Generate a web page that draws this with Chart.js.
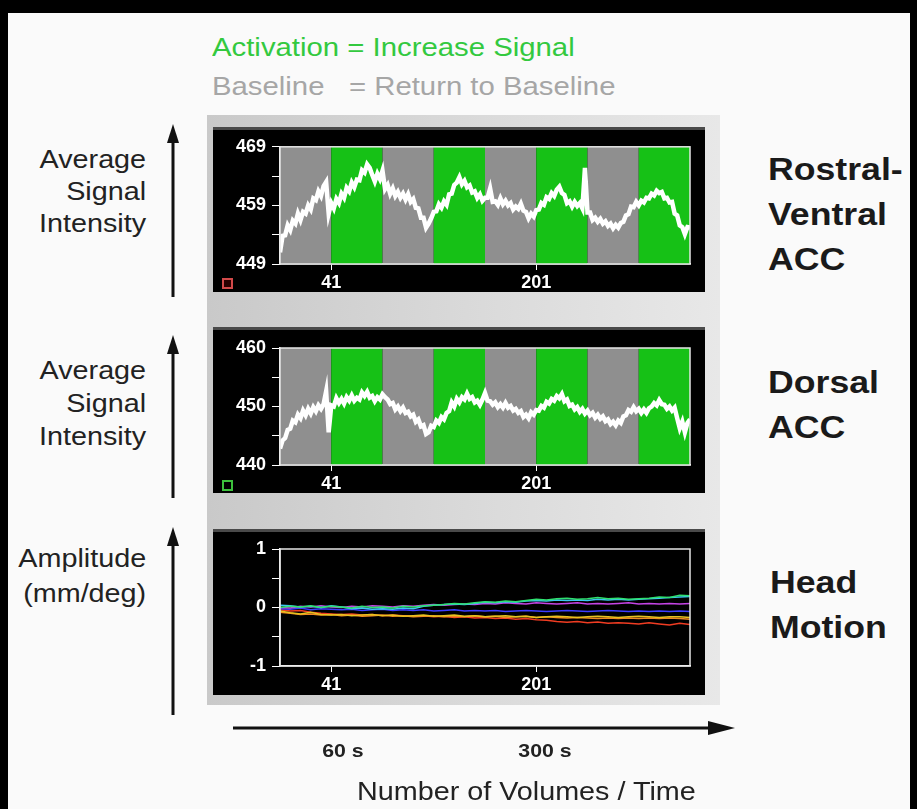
<!DOCTYPE html>
<html>
<head>
<meta charset="utf-8">
<script src="https://cdn.jsdelivr.net/npm/chart.js@4.4.1/dist/chart.umd.min.js"></script>
<style>
  html, body { margin: 0; padding: 0; }
  body { width: 917px; height: 809px; position: relative; background: #fafafa; overflow: hidden;
         font-family: "Liberation Sans", Arial, sans-serif; }
  .abs { position: absolute; }
  .stretch { transform: scaleX(1.15); white-space: pre; }
  .panel { position: absolute; background: #000; box-shadow: 0 -3px 0 #4a4a4a; }
  .side { font-size: 25px; color: #222; text-align: right; transform-origin: right top; }
  .region { font-size: 31px; font-weight: bold; color: #1a1a1a; transform-origin: left top; line-height: 45px; }
  .roi { position: absolute; width: 7px; height: 7px; }
</style>
</head>
<body>
<div class="abs" style="left:0;top:0;width:917px;height:13px;background:#000"></div>
<div class="abs" style="left:0;top:0;width:8px;height:809px;background:#000"></div>
<div class="abs" style="left:910px;top:0;width:7px;height:809px;background:#000"></div>

<div class="abs stretch" style="left:212px;top:28px;font-size:25.5px;line-height:39px;color:#33c93f;transform-origin:left top">Activation = Increase Signal</div>
<div class="abs stretch" style="left:212px;top:67px;font-size:25.5px;line-height:39px;color:#a6a6a6;transform-origin:left top">Baseline   = Return to Baseline</div>

<div class="abs" style="left:207px;top:115px;width:513px;height:590px;background:linear-gradient(to right,#c9c9c9,#dcdcdc 60%,#e8e8e8)"></div>

<canvas id="rv" class="panel" width="492" height="162" style="left:213px;top:130px"></canvas>
<canvas id="dacc" class="panel" width="492" height="163" style="left:213px;top:330px"></canvas>
<canvas id="motion" class="panel" width="492" height="163" style="left:213px;top:532px"></canvas>

<div class="roi" style="left:222px;top:278px;border:2px solid #d24a4a;background:#2a0000"></div>
<div class="roi" style="left:222px;top:480px;border:2px solid #3cc03c;background:#000"></div>

<div class="abs stretch side" style="right:771px;top:143px;line-height:32px">Average
Signal
Intensity</div>
<div class="abs stretch side" style="right:771px;top:354px;line-height:33px">Average
Signal
Intensity</div>
<div class="abs stretch side" style="right:771px;top:541px;line-height:35px">Amplitude
(mm/deg)</div>

<div class="abs stretch region" style="left:768px;top:147px">Rostral-
Ventral
ACC</div>
<div class="abs stretch region" style="left:768px;top:360px">Dorsal
ACC</div>
<div class="abs stretch region" style="left:770px;top:560px">Head
Motion</div>

<svg class="abs" style="left:0;top:0" width="917" height="809">
  <g stroke="#111" stroke-width="3" fill="#111">
    <line x1="173" y1="297" x2="173" y2="138"/>
    <polygon points="173,124 167,143 179,143" stroke="none"/>
    <line x1="173" y1="498" x2="173" y2="350"/>
    <polygon points="173,335 167,354 179,354" stroke="none"/>
    <line x1="173" y1="715" x2="173" y2="542"/>
    <polygon points="173,527 167,546 179,546" stroke="none"/>
    <line x1="233" y1="728" x2="712" y2="728"/>
    <polygon points="735,728 708,721 708,735" stroke="none"/>
  </g>
</svg>

<div class="abs stretch" style="left:293px;top:740px;width:100px;text-align:center;font-size:18.5px;line-height:22px;font-weight:bold;color:#222;transform-origin:center top">60 s</div>
<div class="abs stretch" style="left:495px;top:740px;width:100px;text-align:center;font-size:18.5px;line-height:22px;font-weight:bold;color:#222;transform-origin:center top">300 s</div>
<div class="abs stretch" style="left:357px;top:776px;font-size:25px;line-height:30px;color:#222;transform-origin:left top">Number of Volumes / Time</div>

<script>
// blocks of 40 volumes, baseline first
const blockEdges = [1, 41, 81, 121, 161, 201, 241, 281, 321];
const blockKinds = ['baseline', 'activation', 'baseline', 'activation', 'baseline', 'activation', 'baseline', 'activation'];
const volumeTicks = [41, 201];

// one sample every 2 volumes (1, 3, 5 ... 321)
const signalVolumes = Array.from({ length: 161 }, (_, i) => 1 + 2 * i);

const rostralVentral = [
  451.0, 453.8, 453.9, 455.6, 454.8, 456.4, 455.9, 457.6, 456.5, 457.9,
  457.6, 459.0, 458.3, 460.2, 459.9, 461.4, 460.6, 462.3, 463.0, 457.6,
  459.4, 458.5, 460.1, 459.4, 461.0, 460.3, 462.0, 461.4, 462.9, 462.1,
  463.4, 463.3, 465.0, 464.6, 466.0, 465.4, 464.2, 463.1, 464.4, 463.5,
  464.9, 461.8, 462.5, 461.0, 461.9, 460.6, 461.3, 460.3, 461.0, 460.0,
  460.9, 459.6, 460.1, 458.6, 458.5, 456.9, 456.9, 455.2, 455.9, 456.8,
  457.9, 458.0, 459.2, 458.6, 459.7, 459.1, 460.9, 461.0, 462.5, 462.9,
  463.8, 462.6, 463.2, 462.1, 462.4, 461.2, 461.4, 460.3, 460.9, 459.8,
  460.3, 460.3, 461.9, 459.6, 459.7, 459.1, 460.2, 459.2, 459.8, 459.0,
  459.4, 458.3, 458.8, 458.4, 459.3, 458.1, 457.9, 456.8, 457.6, 457.1,
  458.2, 458.3, 459.4, 459.1, 460.4, 460.1, 461.1, 460.6, 461.7, 462.2,
  461.1, 460.8, 459.4, 459.7, 458.8, 459.6, 458.9, 459.4, 458.5, 465.4,
  457.8, 457.8, 456.5, 456.9, 456.2, 456.7, 455.9, 456.3, 455.5, 455.9,
  455.1, 455.7, 455.2, 456.0, 456.2, 457.3, 457.5, 458.8, 458.7, 459.6,
  459.0, 459.8, 459.5, 460.3, 460.2, 461.0, 460.7, 461.5, 461.1, 461.3,
  460.2, 460.3, 459.5, 459.6, 457.6, 457.3, 455.6, 455.3, 454.1, 455.3,
  455.2
];

const dorsal = [
  442.8, 444.2, 444.6, 446.0, 446.2, 447.6, 447.3, 448.6, 448.0, 449.3,
  448.5, 449.6, 448.8, 449.9, 449.2, 450.2, 449.6, 450.4, 452.6, 445.6,
  450.2, 450.0, 451.4, 450.6, 451.3, 450.5, 451.6, 451.0, 451.9, 451.0,
  451.5, 451.2, 452.4, 451.8, 452.5, 451.5, 451.8, 450.9, 451.6, 451.2,
  452.1, 451.6, 451.2, 450.4, 450.6, 449.5, 450.0, 449.2, 449.8, 448.9,
  449.1, 448.3, 448.6, 447.4, 447.8, 446.6, 446.8, 445.3, 445.6, 446.7,
  446.5, 447.6, 447.2, 448.2, 447.8, 448.9, 449.2, 450.7, 450.0, 451.3,
  450.7, 451.6, 451.2, 452.2, 451.3, 451.6, 450.7, 451.0, 450.3, 451.2,
  452.3, 451.0, 450.9, 450.3, 450.7, 449.9, 450.4, 449.8, 450.6, 449.8,
  450.1, 449.3, 449.6, 448.9, 449.2, 448.2, 448.6, 448.0, 449.0, 448.6,
  449.4, 449.3, 450.1, 449.8, 450.8, 450.5, 451.3, 451.0, 451.8, 451.4,
  452.1, 450.9, 451.2, 450.1, 450.3, 449.5, 449.9, 449.1, 449.6, 448.8,
  449.3, 448.5, 448.9, 448.1, 448.6, 447.9, 448.3, 447.5, 447.8, 447.0,
  447.4, 446.8, 447.6, 447.2, 448.3, 448.5, 449.4, 449.1, 449.9, 449.2,
  449.6, 448.9, 449.5, 448.9, 449.7, 450.0, 450.6, 450.2, 451.1, 450.4,
  450.3, 449.6, 450.0, 449.3, 449.8, 448.0, 446.3, 447.4, 445.6, 447.2,
  447.8
];

// head motion, one sample every 8 volumes
const motionVolumes = [1, 9, 17, 25, 33, 41, 49, 57, 65, 73, 81, 89, 97, 105, 113, 121, 129, 137, 145, 153,
  161, 169, 177, 185, 193, 201, 209, 217, 225, 233, 241, 249, 257, 265, 273, 281, 289, 297, 305, 313, 321];
const motionGreen = [0.00, 0.02, 0.01, 0.03, 0.00, 0.02, 0.01, -0.01, 0.02, 0.00,
  0.01, -0.01, 0.02, 0.01, 0.03, 0.04, 0.05, 0.07, 0.06, 0.08,
  0.10, 0.09, 0.11, 0.10, 0.12, 0.14, 0.13, 0.15, 0.16, 0.14,
  0.15, 0.17, 0.15, 0.16, 0.14, 0.15, 0.16, 0.18, 0.17, 0.21, 0.20];
const motionCyan = [0.04, 0.03, 0.01, 0.02, 0.00, 0.03, 0.01, -0.02, -0.01, -0.03,
  -0.02, -0.03, -0.01, -0.02, 0.02, 0.04, 0.05, 0.06, 0.05, 0.07,
  0.09, 0.08, 0.10, 0.09, 0.11, 0.12, 0.11, 0.13, 0.12, 0.13,
  0.12, 0.14, 0.13, 0.14, 0.13, 0.14, 0.15, 0.16, 0.17, 0.18, 0.19];
const motionMagenta = [0.00, -0.01, 0.02, 0.01, 0.03, 0.01, 0.00, 0.02, 0.01, 0.03,
  0.02, 0.01, 0.03, 0.02, 0.04, 0.05, 0.04, 0.05, 0.06, 0.05,
  0.07, 0.06, 0.08, 0.07, 0.06, 0.08, 0.07, 0.06, 0.07, 0.08,
  0.06, 0.07, 0.06, 0.07, 0.08, 0.06, 0.07, 0.06, 0.07, 0.06, 0.07];
const motionBlue = [-0.02, -0.03, -0.01, -0.04, -0.02, -0.03, -0.04, -0.03, -0.05, -0.04,
  -0.03, -0.05, -0.04, -0.05, -0.04, -0.06, -0.05, -0.04, -0.06, -0.05,
  -0.06, -0.05, -0.07, -0.06, -0.05, -0.06, -0.07, -0.06, -0.05, -0.06,
  -0.07, -0.06, -0.05, -0.06, -0.07, -0.06, -0.07, -0.06, -0.07, -0.06, -0.07];
const motionYellow = [-0.06, -0.09, -0.11, -0.08, -0.12, -0.13, -0.12, -0.14, -0.13, -0.12,
  -0.14, -0.13, -0.15, -0.14, -0.13, -0.15, -0.14, -0.13, -0.15, -0.14,
  -0.16, -0.15, -0.14, -0.16, -0.15, -0.17, -0.16, -0.15, -0.16, -0.17,
  -0.16, -0.15, -0.16, -0.17, -0.16, -0.15, -0.16, -0.17, -0.16, -0.16, -0.17];
const motionOrange = [-0.08, -0.10, -0.12, -0.11, -0.13, -0.12, -0.14, -0.13, -0.15, -0.14,
  -0.13, -0.15, -0.14, -0.16, -0.15, -0.14, -0.16, -0.15, -0.16, -0.14,
  -0.16, -0.15, -0.17, -0.16, -0.15, -0.17, -0.16, -0.17, -0.18, -0.17,
  -0.18, -0.19, -0.18, -0.19, -0.18, -0.19, -0.18, -0.19, -0.18, -0.19, -0.20];
const motionRed = [-0.04, -0.06, -0.05, -0.08, -0.10, -0.11, -0.12, -0.11, -0.13, -0.12,
  -0.14, -0.13, -0.14, -0.15, -0.14, -0.16, -0.15, -0.17, -0.16, -0.18,
  -0.17, -0.19, -0.18, -0.20, -0.19, -0.21, -0.22, -0.24, -0.25, -0.24,
  -0.26, -0.25, -0.27, -0.26, -0.27, -0.28, -0.26, -0.28, -0.30, -0.27, -0.29];

const bandColors = { baseline: '#8f8f8f', activation: '#16c116' };

Chart.defaults.font.family = '"Liberation Sans", Arial, sans-serif';

const bandsPlugin = {
  id: 'bands',
  beforeDatasetsDraw(chart) {
    if (!chart.options.plugins.bands.show) return;
    const { ctx, chartArea } = chart;
    const xs = chart.scales.x;
    ctx.save();
    for (let i = 0; i < blockKinds.length; i++) {
      const x0 = xs.getPixelForValue(blockEdges[i]);
      const x1 = xs.getPixelForValue(blockEdges[i + 1]);
      ctx.fillStyle = bandColors[blockKinds[i]];
      ctx.fillRect(x0, chartArea.top, x1 - x0, chartArea.bottom - chartArea.top);
    }
    ctx.restore();
  }
};

const framePlugin = {
  id: 'frame',
  afterDraw(chart) {
    const { ctx, chartArea } = chart;
    ctx.save();
    ctx.strokeStyle = '#e6e6e6';
    ctx.lineWidth = 1.5;
    ctx.strokeRect(chartArea.left, chartArea.top, chartArea.right - chartArea.left, chartArea.bottom - chartArea.top);
    ctx.restore();
  }
};

function makePanel(id, yMin, yMax, yStep, yLabels, datasets, bands, pad) {
  new Chart(document.getElementById(id), {
    type: 'line',
    data: { datasets },
    options: {
      responsive: false,
      animation: false,
      events: [],
      layout: { padding: { top: pad.top, right: 15, left: 0, bottom: 0 } },
      plugins: { legend: { display: false }, tooltip: { enabled: false }, bands: { show: bands } },
      elements: { point: { radius: 0 }, line: { tension: 0, borderJoinStyle: 'miter' } },
      scales: {
        x: {
          type: 'linear', min: 1, max: 321,
          afterBuildTicks: s => { s.ticks = volumeTicks.map(v => ({ value: v })); },
          afterFit: s => { s.height = pad.bottom; },
          grid: { drawOnChartArea: false, color: '#fff', tickLength: 6 },
          border: { color: '#fff', width: 1.5 },
          ticks: { color: '#fff', font: { size: 18, weight: 'bold' }, padding: 2, maxRotation: 0 }
        },
        y: {
          min: yMin, max: yMax,
          afterFit: s => { s.width = 67; },
          grid: { drawOnChartArea: false, color: '#fff', tickLength: 8 },
          border: { color: '#fff', width: 1.5 },
          ticks: {
            stepSize: yStep, color: '#fff', font: { size: 18, weight: 'bold' }, padding: 6,
            callback: v => yLabels.includes(v) ? String(v) : ''
          }
        }
      }
    },
    plugins: [bandsPlugin, framePlugin]
  });
}

function series(xs, ys) {
  return xs.map((x, i) => ({ x, y: ys[i] }));
}

makePanel('rv', 449, 469, 5, [449, 459, 469],
  [{ data: series(signalVolumes, rostralVentral), borderColor: '#ffffff', borderWidth: 4.5 }],
  true, { top: 16, bottom: 28 });

makePanel('dacc', 440, 460, 5, [440, 450, 460],
  [{ data: series(signalVolumes, dorsal), borderColor: '#ffffff', borderWidth: 4.5 }],
  true, { top: 18, bottom: 28 });

const motionSeries = [
  [motionGreen, '#2fe070'],
  [motionCyan, '#3cc6f2'],
  [motionMagenta, '#c544e6'],
  [motionBlue, '#3c3cff'],
  [motionYellow, '#e6c21e'],
  [motionOrange, '#f08a22'],
  [motionRed, '#f03c22']
];
makePanel('motion', -1, 1, 0.5, [-1, 0, 1],
  motionSeries.map(([vals, col]) => ({ data: series(motionVolumes, vals), borderColor: col, borderWidth: 1.5 })),
  false, { top: 17, bottom: 29 });
</script>
</body>
</html>
